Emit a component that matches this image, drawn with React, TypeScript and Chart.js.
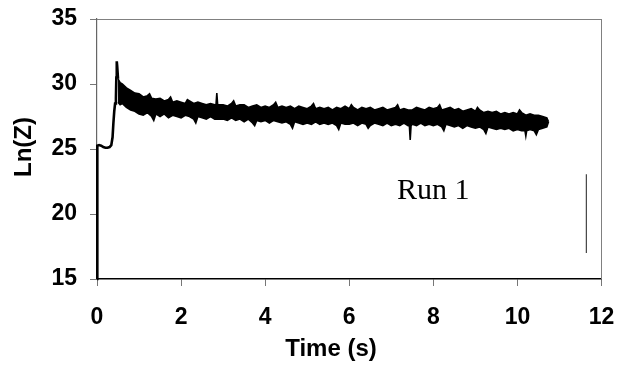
import React, { useEffect, useRef } from "react";
import { Chart, registerables } from "chart.js";

Chart.register(...registerables);

// ---- data ----
// start-up: jump from the bottom, plateau near 25, rise and spike
const riseTime: number[] = [0, 0.005, 0.01, 0.05, 0.1, 0.15, 0.2, 0.25, 0.3, 0.34, 0.37, 0.39, 0.41, 0.43, 0.45, 0.46, 0.47, 0.48, 0.5];
const riseLnZ: number[] = [15.0, 21.5, 25.25, 25.3, 25.25, 25.15, 25.1, 25.1, 25.15, 25.3, 25.9, 27.0, 27.9, 28.5, 28.9, 30.5, 31.75, 31.4, 30.4];

// noisy trace: upper edge of the band
const bandTopTime: number[] = [
  0.5, 0.55, 0.6, 0.7, 0.8, 0.9, 1.0, 1.1, 1.2, 1.25, 1.3, 1.4,
  1.5, 1.6, 1.7, 1.75, 1.8, 1.9, 2.0, 2.1, 2.15, 2.2, 2.3, 2.4,
  2.5, 2.6, 2.7, 2.8, 2.83, 2.85, 2.87, 2.9, 3.0, 3.1, 3.2, 3.25, 3.3, 3.4,
  3.5, 3.6, 3.7, 3.8, 3.9, 4.0, 4.1, 4.2, 4.25, 4.3, 4.4,
  4.5, 4.6, 4.7, 4.8, 4.9, 5.0, 5.1, 5.15, 5.2, 5.3, 5.4,
  5.5, 5.6, 5.7, 5.8, 5.9, 6.0, 6.05, 6.1, 6.2, 6.3, 6.4,
  6.5, 6.6, 6.7, 6.8, 6.9, 7.0, 7.1, 7.15, 7.2, 7.3, 7.4,
  7.5, 7.6, 7.7, 7.8, 7.9, 8.0, 8.1, 8.15, 8.2, 8.3, 8.4,
  8.5, 8.6, 8.7, 8.8, 8.9, 9.0, 9.05, 9.1, 9.2, 9.3, 9.4,
  9.5, 9.6, 9.7, 9.8, 9.9, 10.0, 10.05, 10.1, 10.2, 10.3, 10.4,
  10.5, 10.6, 10.7, 10.74,
];
const bandTopLnZ: number[] = [
  30.4, 30.1, 30.0, 29.7, 29.5, 29.3, 29.25, 29.0, 29.1, 29.25, 28.9, 28.85,
  28.9, 28.7, 28.8, 29.0, 28.6, 28.7, 28.6, 28.5, 28.8, 28.7, 28.5, 28.6,
  28.5, 28.4, 28.5, 28.4, 28.4, 29.3, 28.4, 28.4, 28.4, 28.3, 28.5, 28.7, 28.3, 28.4,
  28.4, 28.2, 28.3, 28.4, 28.2, 28.3, 28.2, 28.4, 28.6, 28.2, 28.3,
  28.2, 28.3, 28.1, 28.3, 28.2, 28.1, 28.3, 28.5, 28.1, 28.2, 28.1,
  28.2, 28.0, 28.2, 28.1, 28.3, 28.1, 28.4, 28.2, 28.0, 28.2, 28.1,
  28.2, 28.0, 28.1, 28.2, 28.0, 28.1, 28.2, 28.4, 28.0, 28.1, 28.0,
  28.0, 28.2, 28.1, 28.0, 28.2, 28.1, 28.2, 28.4, 28.0, 28.1, 28.2,
  28.0, 28.1, 27.9, 28.0, 28.1, 27.9, 28.2, 28.0, 27.8, 27.9, 27.8,
  27.9, 27.7, 27.8, 27.7, 27.8, 27.7, 28.0, 27.8, 27.6, 27.7, 27.6,
  27.6, 27.5, 27.4, 27.1,
];

// noisy trace: lower edge of the band
const bandBottomTime: number[] = [
  0.5, 0.55, 0.6, 0.7, 0.8, 0.9, 1.0, 1.1, 1.2, 1.3, 1.35, 1.4,
  1.5, 1.6, 1.7, 1.8, 1.9, 2.0, 2.1, 2.2, 2.3, 2.35, 2.4,
  2.5, 2.6, 2.7, 2.8, 2.9, 3.0, 3.1, 3.2, 3.3, 3.4,
  3.5, 3.6, 3.7, 3.75, 3.8, 3.9, 4.0, 4.1, 4.2, 4.3, 4.4,
  4.5, 4.6, 4.65, 4.7, 4.8, 4.9, 5.0, 5.1, 5.2, 5.3, 5.4,
  5.5, 5.6, 5.7, 5.75, 5.8, 5.9, 6.0, 6.1, 6.2, 6.3, 6.4, 6.45,
  6.5, 6.6, 6.7, 6.8, 6.9, 7.0, 7.1, 7.2, 7.3, 7.4, 7.43, 7.45, 7.47,
  7.5, 7.6, 7.7, 7.8, 7.9, 8.0, 8.1, 8.2, 8.25, 8.3, 8.4,
  8.5, 8.6, 8.7, 8.8, 8.9, 9.0, 9.1, 9.2, 9.25, 9.3, 9.4,
  9.5, 9.6, 9.7, 9.8, 9.9, 10.0, 10.1, 10.18, 10.2, 10.22, 10.3, 10.4, 10.45,
  10.5, 10.6, 10.7, 10.74,
];
const bandBottomLnZ: number[] = [
  28.6, 28.4, 28.5, 28.2, 28.0, 27.9, 27.7, 27.6, 27.8, 27.5, 27.2, 27.7,
  27.5, 27.7, 27.4, 27.6, 27.5, 27.4, 27.6, 27.5, 27.3, 27.0, 27.5,
  27.4, 27.3, 27.5, 27.3, 27.3, 27.3, 27.2, 27.4, 27.2, 27.3,
  27.1, 27.3, 27.0, 26.8, 27.2, 27.1, 27.2, 27.0, 27.2, 27.1, 27.0,
  27.1, 26.9, 26.6, 27.1, 27.0, 26.9, 27.0, 26.9, 27.1, 26.9, 27.0,
  26.9, 27.0, 26.8, 26.5, 27.0, 26.9, 26.9, 27.0, 26.8, 27.0, 26.9, 26.6,
  26.8, 27.0, 26.9, 26.8, 27.0, 26.8, 26.9, 26.8, 27.0, 26.8, 26.8, 25.7, 26.8,
  26.9, 26.8, 27.0, 26.8, 26.9, 26.8, 26.9, 26.7, 26.4, 26.9, 26.8,
  26.7, 26.8, 26.6, 26.8, 26.7, 26.6, 26.7, 26.5, 26.2, 26.7, 26.6,
  26.5, 26.6, 26.5, 26.6, 26.4, 26.5, 26.4, 26.4, 26.0, 26.4, 26.5, 26.4, 26.1,
  26.5, 26.6, 26.7, 27.1,
];

// thin vertical marker line at the right of the plot
const markerTime: number[] = [11.64, 11.64];
const markerLnZ: number[] = [17.0, 23.05];

const xTickValues: number[] = [0, 2, 4, 6, 8, 10, 12];
const yTickValues: number[] = [15, 20, 25, 30, 35];

const xTitle = "Time (s)";
const yTitle = "Ln(Z)";
const runLabel = "Run 1";
const runLabelTime = 8.0;
const runLabelLnZ = 21.15;

const SANS = '"Liberation Sans", Arial, Helvetica, sans-serif';
const SERIF = '"Liberation Serif", "Times New Roman", serif';

const toPoints = (xs: number[], ys: number[]) => xs.map((x, i) => ({ x, y: ys[i] }));

const framePlugin = {
  id: "frameAndText",
  afterDraw(chart: any) {
    const { ctx, chartArea: a, scales } = chart;
    ctx.save();
    ctx.strokeStyle = "#808080";
    ctx.lineWidth = 1;
    ctx.beginPath();
    ctx.moveTo(a.left, Math.round(a.top) + 0.5);
    ctx.lineTo(a.right, Math.round(a.top) + 0.5);
    ctx.moveTo(Math.round(a.right) - 0.5, a.top);
    ctx.lineTo(Math.round(a.right) - 0.5, a.bottom);
    ctx.stroke();

    ctx.fillStyle = "#000";
    ctx.font = `30px ${SERIF}`;
    ctx.textAlign = "center";
    ctx.textBaseline = "alphabetic";
    ctx.fillText(runLabel, scales.x.getPixelForValue(runLabelTime), scales.y.getPixelForValue(runLabelLnZ));

    ctx.font = `bold 24px ${SANS}`;
    ctx.fillText(xTitle, 331, 356);
    ctx.translate(31, 147);
    ctx.rotate(-Math.PI / 2);
    ctx.fillText(yTitle, 0, 0);
    ctx.restore();
  },
};

export default function App() {
  const canvasRef = useRef<HTMLCanvasElement | null>(null);

  useEffect(() => {
    if (!canvasRef.current) return;
    const chart = new Chart(canvasRef.current, {
      type: "line",
      data: {
        datasets: [
          {
            data: toPoints(riseTime, riseLnZ),
            borderColor: "#000",
            borderWidth: 2.6,
            pointRadius: 0,
            tension: 0,
            fill: false,
            clip: 6,
          },
          {
            data: toPoints(bandBottomTime, bandBottomLnZ),
            borderColor: "#000",
            borderWidth: 1.6,
            pointRadius: 0,
            tension: 0,
            fill: false,
          },
          {
            data: toPoints(bandTopTime, bandTopLnZ),
            borderColor: "#000",
            borderWidth: 1.6,
            backgroundColor: "#000",
            pointRadius: 0,
            tension: 0,
            fill: "-1",
          },
          {
            data: toPoints(markerTime, markerLnZ),
            borderColor: "#444",
            borderWidth: 1.2,
            pointRadius: 0,
            fill: false,
          },
        ],
      },
      options: {
        animation: false,
        responsive: false,
        devicePixelRatio: 1,
        layout: { padding: { left: 0, right: 27.5, top: 19, bottom: 0 } },
        plugins: {
          legend: { display: false },
          tooltip: { enabled: false },
        },
        scales: {
          x: {
            type: "linear",
            min: 0,
            max: 12,
            afterBuildTicks: (s: any) => {
              s.ticks = xTickValues.map((v) => ({ value: v }));
            },
            afterFit: (s: any) => {
              s.height = 86;
              s.paddingLeft = 0;
              s.paddingRight = 0;
            },
            ticks: {
              color: "#000",
              padding: 18,
              maxRotation: 0,
              font: { family: SANS, size: 23, weight: "bold" },
            },
            grid: { drawOnChartArea: false, drawTicks: true, tickLength: 7, color: "#777" },
            border: { display: true, color: "#000", width: 1.5 },
          },
          y: {
            type: "linear",
            min: 15,
            max: 35,
            afterBuildTicks: (s: any) => {
              s.ticks = yTickValues.map((v) => ({ value: v }));
            },
            afterFit: (s: any) => {
              s.width = 97;
              s.paddingTop = 0;
              s.paddingBottom = 0;
            },
            ticks: {
              color: "#000",
              padding: 13,
              font: { family: SANS, size: 23, weight: "bold" },
            },
            grid: { drawOnChartArea: false, drawTicks: true, tickLength: 7, color: "#777" },
            border: { display: true, color: "#666", width: 1.2 },
          },
        },
      },
      plugins: [framePlugin],
    });
    return () => chart.destroy();
  }, []);

  return (
    <div style={{ position: "absolute", left: 0, top: 0, width: 629, height: 365, background: "#fff" }}>
      <canvas ref={canvasRef} width={629} height={365} style={{ display: "block" }} />
    </div>
  );
}
